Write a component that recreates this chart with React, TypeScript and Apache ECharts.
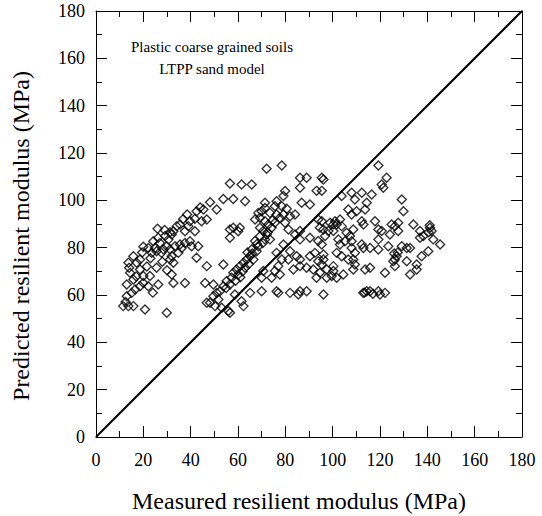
import React, { useEffect, useRef } from "react";
import * as echarts from "echarts";

// Axis range (MPa)
const axisMin = 0;
const axisMax = 180;
const axisStep = 20;

// Line of equality
const equalityLine: [number, number][] = [
  [0, 0],
  [180, 180],
];

// [measured, predicted] pairs
const leftCloud: [number, number][] = [
  [42.5, 95.4], [41.8, 92.2], [39.7, 91.2], [39.0, 89.1], [41.8, 86.9], [35.5, 89.8], [37.6, 86.9],
  [34.1, 89.1], [32.7, 86.9], [31.3, 86.5], [30.6, 83.4], [32.0, 85.6], [29.2, 84.9], [29.9, 80.6],
  [26.3, 84.2], [27.0, 82.0], [24.2, 82.7], [24.9, 79.9], [23.5, 77.8], [25.6, 78.5], [22.1, 79.9],
  [20.0, 80.4], [28.5, 79.2], [27.7, 77.8], [31.3, 79.2], [33.4, 80.6], [35.5, 81.3], [37.6, 82.0],
  [39.7, 82.7], [40.4, 80.6], [43.2, 80.6], [42.5, 75.7], [36.2, 79.9], [34.8, 77.8], [31.3, 75.0],
  [32.7, 73.6], [32.0, 76.4], [18.6, 75.0], [15.8, 76.4], [17.2, 73.6], [13.7, 73.6], [14.4, 69.4],
  [15.8, 66.5], [18.6, 70.8], [20.0, 68.0], [22.8, 68.0], [25.6, 71.5], [22.1, 63.7], [26.3, 64.4],
  [18.6, 63.7], [20.0, 65.1], [16.5, 62.3], [13.0, 64.4], [15.1, 60.9], [13.0, 59.5], [11.5, 55.3],
  [13.7, 55.3], [15.8, 55.3], [20.7, 53.9], [29.9, 52.5], [32.0, 68.7], [32.7, 65.1], [37.6, 65.1],
  [17.0, 67.8], [21.5, 72.0], [23.0, 75.5], [28.0, 74.0], [26.0, 88.0], [29.0, 87.5], [36.8, 92.0],
  [38.5, 94.0], [44.0, 97.0], [30.0, 70.5], [24.0, 61.0], [14.0, 71.5], [12.5, 57.0], [19.5, 78.0],
];

const middleBand: [number, number][] = [
  [72.1, 113.3], [78.5, 114.7], [56.6, 107.1], [61.5, 106.7], [65.8, 106.7], [53.8, 100.6], [58.0, 100.6],
  [63.0, 99.6], [48.2, 99.2], [45.4, 96.1], [51.0, 96.1], [44.6, 91.2], [46.8, 91.9], [86.2, 109.5],
  [89.0, 109.5], [79.9, 103.9], [79.2, 101.8], [86.2, 105.3], [93.2, 104.0], [95.4, 104.0], [71.4, 99.0],
  [76.3, 99.6], [75.6, 97.5], [78.5, 97.5], [80.6, 96.4], [70.0, 95.4], [71.4, 96.8], [68.6, 94.7],
  [73.5, 94.7], [76.3, 94.0], [79.2, 94.0], [82.0, 93.3], [84.1, 94.0], [86.9, 99.0], [90.4, 98.2],
  [93.9, 91.9], [95.4, 91.2], [67.2, 91.9], [69.3, 92.6], [71.4, 91.2], [72.8, 89.8], [74.2, 88.4],
  [75.6, 90.5], [77.7, 92.6], [79.9, 90.5], [81.3, 87.7], [84.1, 85.6], [86.2, 87.0], [56.6, 87.7],
  [58.0, 88.4], [60.8, 88.4], [69.3, 88.4], [70.7, 87.0], [72.1, 85.6], [71.4, 83.5], [73.5, 83.5],
  [69.3, 84.8], [67.2, 82.8], [68.6, 80.6], [65.8, 79.2], [67.9, 78.5], [65.1, 76.4], [63.7, 75.0],
  [66.5, 75.0], [62.3, 73.6], [60.8, 72.2], [63.0, 71.5], [59.4, 70.8], [58.0, 69.4], [60.1, 68.7],
  [57.3, 67.3], [55.2, 65.9], [56.6, 64.4], [53.8, 63.7], [52.4, 61.6], [51.0, 60.9], [49.6, 59.5],
  [51.7, 58.1], [48.2, 56.7], [79.2, 81.3], [82.0, 78.5], [84.8, 76.4], [86.2, 75.0], [81.3, 75.0],
  [83.4, 70.8], [86.2, 72.2], [89.0, 71.5], [90.4, 76.4], [92.5, 77.8], [93.9, 74.3], [96.1, 75.0],
  [91.8, 70.8], [94.6, 69.4], [97.5, 70.8], [100.3, 70.1], [99.6, 68.0], [101.7, 67.3], [93.2, 67.3],
  [77.0, 72.2], [75.6, 70.1], [77.7, 68.7], [74.2, 67.3], [70.7, 70.1], [70.0, 67.3], [78.5, 75.0],
  [76.3, 77.8], [76.3, 61.6], [77.0, 60.9], [82.0, 60.9], [85.5, 60.2], [86.2, 61.6], [89.0, 61.6],
  [96.1, 60.2], [65.1, 60.9], [70.0, 61.6], [61.5, 57.4], [86.2, 83.5], [90.4, 84.2], [93.9, 82.8],
  [96.1, 87.7], [96.8, 84.9], [98.2, 87.0], [100.3, 89.8], [46.1, 65.1], [49.6, 64.4], [46.8, 56.7],
  [50.3, 55.3], [53.1, 54.6], [55.9, 53.2], [58.7, 60.2], [62.3, 55.3], [56.6, 52.5], [46.8, 72.2],
  [53.8, 72.9], [60.1, 86.9], [56.6, 84.2], [95.4, 109.5], [96.1, 108.8], [101.0, 91.2], [98.9, 90.5],
  [100.3, 87.0], [94.6, 88.4], [95.4, 81.3], [101.7, 89.8], [102.4, 83.5], [101.7, 77.8], [96.1, 77.1],
  [95.4, 72.9], [97.5, 67.3], [100.3, 72.2], [62.0, 70.0], [64.5, 73.0], [66.0, 77.5], [68.0, 81.5],
  [70.5, 82.0], [72.5, 86.5], [74.5, 91.5], [59.0, 66.0], [55.0, 63.0], [61.0, 67.5], [64.0, 78.0],
];

const rightCloud: [number, number][] = [
  [119.3, 114.7], [122.8, 109.5], [120.7, 106.7], [121.4, 105.3], [103.8, 101.8], [108.0, 103.2],
  [112.3, 103.2], [116.5, 102.5], [109.4, 100.4], [114.4, 99.0], [113.7, 96.1], [106.6, 96.1],
  [110.1, 95.4], [108.0, 94.0], [103.1, 91.9], [103.8, 89.1], [105.9, 86.3], [108.7, 87.7],
  [107.3, 84.9], [108.0, 82.7], [105.2, 82.7], [112.3, 91.2], [113.0, 89.8], [117.9, 91.2],
  [119.3, 87.7], [120.7, 87.0], [124.9, 89.8], [126.3, 89.1], [127.7, 90.5], [124.2, 85.6],
  [127.7, 87.0], [129.2, 100.4], [129.9, 95.4], [134.1, 89.8], [136.9, 87.0], [138.3, 84.9],
  [141.1, 88.4], [141.8, 87.0], [142.5, 83.5], [140.4, 78.5], [137.6, 76.4], [136.9, 84.2],
  [145.4, 81.3], [131.3, 79.9], [132.7, 79.9], [129.2, 80.6], [123.5, 80.6], [119.3, 83.5],
  [119.3, 79.2], [115.8, 79.9], [113.0, 79.9], [112.3, 81.3], [108.0, 79.9], [103.1, 81.3],
  [103.8, 76.4], [104.5, 68.7], [108.7, 70.8], [109.4, 72.9], [106.6, 75.0], [109.4, 77.8],
  [108.7, 75.0], [113.7, 70.8], [115.8, 71.5], [122.1, 69.4], [125.6, 74.3], [127.0, 76.4],
  [126.3, 72.2], [131.3, 74.3], [132.7, 68.7], [135.5, 72.9], [135.5, 70.8], [112.9, 60.9],
  [114.4, 61.6], [115.8, 61.6], [119.3, 61.6], [120.0, 60.2], [122.1, 60.9], [126.3, 75.0],
  [126.0, 77.5], [127.5, 78.0], [141.0, 89.5], [140.5, 86.5], [113.5, 61.0], [117.0, 60.5],
];

const noteLines = ["Plastic coarse grained soils", "LTPP sand model"];
const xTitle = "Measured resilient modulus (MPa)";
const yTitle = "Predicted resilient modulus (MPa)";

const FONT = "Liberation Serif";

export default function App() {
  const ref = useRef<HTMLDivElement>(null);

  useEffect(() => {
    if (!ref.current) return;
    const chart = echarts.init(ref.current, null, { renderer: "svg" });

    const axisBase = (showLabels: boolean, margin: number) => ({
      type: "value",
      min: axisMin,
      max: axisMax,
      interval: axisStep,
      axisLine: { show: true, onZero: false, lineStyle: { color: "#000", width: 1 } },
      axisTick: { show: true, inside: true, length: 11, lineStyle: { color: "#000", width: 1 } },
      minorTick: { show: true, splitNumber: 2, length: 6, lineStyle: { color: "#000", width: 1 } },
      splitLine: { show: false },
      minorSplitLine: { show: false },
      axisLabel: {
        show: showLabels,
        margin,
        color: "#000",
        fontFamily: FONT,
        fontSize: 18,
      },
    });

    const allPoints = [...leftCloud, ...middleBand, ...rightCloud];

    const textStyle = (text: string, size: number) => ({
      text,
      align: "center",
      verticalAlign: "middle",
      fill: "#000",
      fontFamily: FONT,
      fontSize: size,
    });

    chart.setOption({
      animation: false,
      backgroundColor: "#fff",
      textStyle: { fontFamily: FONT },
      grid: { left: 96, top: 11, width: 426, height: 426, containLabel: false },
      xAxis: [
        { ...axisBase(true, 14), position: "bottom" },
        { ...axisBase(false, 8), position: "top" },
      ],
      yAxis: [
        { ...axisBase(true, 11), position: "left" },
        { ...axisBase(false, 8), position: "right" },
      ],
      series: [
        {
          type: "line",
          data: equalityLine,
          symbol: "none",
          lineStyle: { color: "#000", width: 2 },
          silent: true,
          z: 1,
        },
        {
          type: "scatter",
          data: allPoints,
          symbol: "diamond",
          symbolSize: 9,
          itemStyle: { color: "rgba(0,0,0,0)", borderColor: "#000", borderWidth: 1.4 },
          z: 2,
        },
      ],
      graphic: [
        { type: "text", x: 212, y: 47, style: textStyle(noteLines[0], 15) },
        { type: "text", x: 212, y: 69, style: textStyle(noteLines[1], 15) },
        { type: "text", x: 299, y: 501, style: textStyle(xTitle, 24) },
        { type: "text", x: 21, y: 236, rotation: Math.PI / 2, style: textStyle(yTitle, 24) },
      ],
    });

    return () => chart.dispose();
  }, []);

  return (
    <div
      ref={ref}
      style={{ position: "fixed", left: 0, top: 0, width: 542, height: 516 }}
    />
  );
}
